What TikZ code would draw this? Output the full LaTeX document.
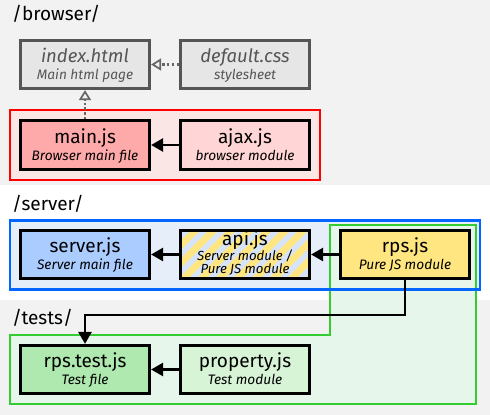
\documentclass[tikz,border=0pt]{standalone}
\usepackage{fontspec}
\setmainfont{Fira Sans}
\usetikzlibrary{arrows.meta,calc}
\definecolor{bandgrey}{HTML}{F2F2F2}
\definecolor{htmlfill}{HTML}{E6E6E6}
\definecolor{htmldraw}{HTML}{555555}
\definecolor{redgroup}{HTML}{FBE6E6}
\definecolor{redline}{HTML}{FF0000}
\definecolor{mainred}{HTML}{FFAAAA}
\definecolor{lightred}{HTML}{FFD5D5}
\definecolor{bluegroup}{HTML}{E6EEF9}
\definecolor{blueline}{HTML}{0066FF}
\definecolor{serverblue}{HTML}{AACCFF}
\definecolor{apiblue}{HTML}{D5E3FB}
\definecolor{jsyellow}{HTML}{FFE680}
\definecolor{greengroup}{HTML}{E6F6EA}
\definecolor{greenline}{HTML}{33CC33}
\definecolor{testgreen}{HTML}{AFE9AF}
\definecolor{lightgreen}{HTML}{D7F4D7}
\definecolor{dotgrey}{HTML}{666666}
% #1 name, #2 x, #3 y, #4 box style, #5 title, #6 subtitle, #7 title style, #8 subtitle style
\newcommand\FileBox[8]{%
  \node[filebox, #4] (#1) at (#2,#3) {};
  \node[titletext, #7, anchor=base] (#1t) at ($(#1.north)+(0,24)$) {#5};
  \node[subtext, #8, anchor=base] (#1s) at ($(#1.north)+(0,41)$) {#6};
}
\begin{document}
\begin{tikzpicture}[x=1pt,y=-1pt,
  filebox/.style={draw=black, line width=2.7pt, minimum width=129.5pt, minimum height=48.5pt, inner sep=0pt},
  htmlbox/.style={draw=htmldraw, fill=htmlfill},
  titletext/.style={font=\fontsize{19}{20}\selectfont, inner sep=0pt},
  subtext/.style={font=\fontsize{13.7}{15}\selectfont\itshape, inner sep=0pt},
  greytitle/.style={text=htmldraw, font=\fontsize{18.5}{20}\selectfont\itshape},
  greysub/.style={text=htmldraw},
  grouplabel/.style={font=\fontsize{19}{21}\selectfont, anchor=base west, inner sep=0pt},
  grouppath/.style={line width=2.2pt},
  solidarrow/.style={line width=2.5pt, -{Triangle[length=12pt,width=13pt]}},
  dotarrow/.style={draw=dotgrey, line width=2.6pt, dash pattern=on 2.4pt off 2.4pt,
    -{Triangle[open,length=10pt,width=12pt,line width=1.7pt]}}
]
\useasboundingbox (0,0) rectangle (490,415);
% bands
\fill[bandgrey] (0,0) rectangle (490,185);
\fill[white] (0,185) rectangle (490,300);
\fill[bandgrey] (0,300) rectangle (490,415);

% labels
\node[grouplabel] (lbrowser) at (12,20) {/browser/};
\node[grouplabel] (lserver) at (12,210) {/server/};
\node[grouplabel] (ltests) at (12,324) {/tests/};

% groups
\draw[grouppath, draw=redline, fill=redgroup] (10,110.3) rectangle (319.7,179.7);
\fill[bluegroup] (10,220.5) rectangle (479.7,289.5);
\draw[grouppath, draw=greenline, fill=greengroup]
  (330,225) -- (476,225) -- (476,404) -- (10,404) -- (10,335) -- (330,335) -- cycle;
\draw[grouppath, draw=blueline] (10,220.5) rectangle (479.7,289.5);

% browser nodes
\FileBox{index}{85}{64.5}{htmlbox}{index.html}{Main html page}{greytitle}{greysub}
\FileBox{css}{245}{64.5}{htmlbox}{default.css}{stylesheet}{greytitle}{greysub}
\FileBox{main}{85}{145}{fill=mainred}{main.js}{Browser main file}{}{}
\FileBox{ajax}{245}{145}{fill=lightred}{ajax.js}{browser module}{}{}

% server nodes
\FileBox{server}{85}{254.5}{fill=serverblue}{server.js}{Server main file}{}{}
\node[filebox, fill=apiblue, draw=none] (api) at (245,254.5) {};
\begin{scope}
  \clip (180,230) rectangle (310,279);
  \foreach \i in {100,118,...,360} {
    \draw[jsyellow, line width=6.8pt] (\i,290) -- ++(80,-80);
  }
\end{scope}
\node[filebox] (apiframe) at (245,254.5) {};
\node[titletext, anchor=base] (apit) at ($(api.north)+(0,17)$) {api.js};
\node[subtext, font=\fontsize{13.2}{14}\selectfont\itshape, anchor=base] (apis1) at ($(api.north)+(0,32)$) {Server module /};
\node[subtext, font=\fontsize{13.2}{14}\selectfont\itshape, anchor=base] (apis2) at ($(api.north)+(0,44.5)$) {Pure JS module};
\FileBox{rps}{405}{254.5}{fill=jsyellow}{rps.js}{Pure JS module}{}{}

% test nodes
\FileBox{test}{85}{369.5}{fill=testgreen}{rps.test.js}{Test file}{}{}
\FileBox{prop}{245}{369.5}{fill=lightgreen}{property.js}{Test module}{}{}

% connectors
\draw[dotarrow] (css.west) -- (index.east);
\draw[dotarrow] (main.north) -- (index.south);
\draw[solidarrow] (ajax.west) -- (main.east);
\draw[solidarrow] (apiframe.west) -- (server.east);
\draw[solidarrow] (rps.west) -- (apiframe.east);
\draw[solidarrow] (prop.west) -- (test.east);
\draw[solidarrow] (rps.south) -- ++(0,35) -| (test.north);
\end{tikzpicture}
\end{document}
